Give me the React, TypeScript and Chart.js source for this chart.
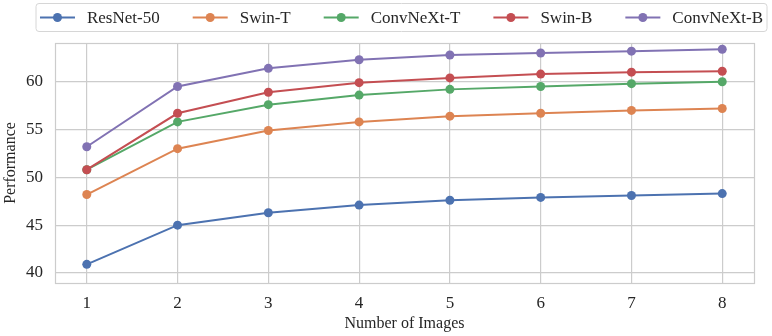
import React, { useEffect, useRef } from "react";
import { Chart, registerables } from "chart.js";

Chart.register(...registerables);

const imageCounts = [1, 2, 3, 4, 5, 6, 7, 8];
const seriesNames = ["ResNet-50", "Swin-T", "ConvNeXt-T", "Swin-B", "ConvNeXt-B"];
const resnet50 = [40.9, 45.0, 46.3, 47.1, 47.6, 47.9, 48.1, 48.3];
const swinT = [48.2, 53.0, 54.9, 55.8, 56.4, 56.7, 57.0, 57.2];
const convnextT = [50.8, 55.8, 57.6, 58.6, 59.2, 59.5, 59.8, 60.0];
const swinB = [50.8, 56.7, 58.9, 59.9, 60.4, 60.8, 61.0, 61.1];
const convnextB = [53.2, 59.5, 61.4, 62.3, 62.8, 63.0, 63.2, 63.4];
const seriesColors = ["#4C72B0", "#DD8452", "#55A868", "#C44E52", "#8172B3"];
const xTicks = [1, 2, 3, 4, 5, 6, 7, 8];
const yTicks = [40, 45, 50, 55, 60];

const FONT = "'Liberation Serif', 'Times New Roman', serif";
const TEXT = "#262626";
const GRID = "#cccccc";

const legendPlugin = {
  id: "boxLegend",
  afterDraw(chart: any) {
    const ctx = chart.ctx;
    ctx.save();
    ctx.font = `17px ${FONT}`;
    const handle = 35;
    const gapText = 12;
    const colSpace = 33;
    const items = chart.data.datasets.map((d: any) => ({
      label: d.label,
      color: d.borderColor,
      w: ctx.measureText(d.label).width,
    }));
    let total = 0;
    items.forEach((it: any, i: number) => {
      total += handle + gapText + it.w + (i < items.length - 1 ? colSpace : 0);
    });
    const boxL = 36, boxR = 767, boxT = 3.5, boxB = 31.5;
    const cx = (boxL + boxR) / 2;
    ctx.beginPath();
    const r = 3;
    ctx.moveTo(boxL + r, boxT);
    ctx.lineTo(boxR - r, boxT);
    ctx.quadraticCurveTo(boxR, boxT, boxR, boxT + r);
    ctx.lineTo(boxR, boxB - r);
    ctx.quadraticCurveTo(boxR, boxB, boxR - r, boxB);
    ctx.lineTo(boxL + r, boxB);
    ctx.quadraticCurveTo(boxL, boxB, boxL, boxB - r);
    ctx.lineTo(boxL, boxT + r);
    ctx.quadraticCurveTo(boxL, boxT, boxL + r, boxT);
    ctx.closePath();
    ctx.fillStyle = "rgba(255,255,255,0.8)";
    ctx.fill();
    ctx.strokeStyle = "#d6d6d6";
    ctx.lineWidth = 1;
    ctx.stroke();
    let x = cx - total / 2;
    const y = 17.5;
    items.forEach((it: any) => {
      ctx.strokeStyle = it.color;
      ctx.lineWidth = 2;
      ctx.beginPath();
      ctx.moveTo(x, y);
      ctx.lineTo(x + handle, y);
      ctx.stroke();
      ctx.fillStyle = it.color;
      ctx.beginPath();
      ctx.arc(x + handle / 2, y, 4.5, 0, Math.PI * 2);
      ctx.fill();
      ctx.fillStyle = TEXT;
      ctx.textBaseline = "middle";
      ctx.textAlign = "left";
      ctx.fillText(it.label, x + handle + gapText, y + 1);
      x += handle + gapText + it.w + colSpace;
    });
    ctx.restore();
  },
};

const framePlugin = {
  id: "frame",
  afterDatasetsDraw(chart: any) {
    const { ctx, chartArea } = chart;
    ctx.save();
    ctx.strokeStyle = GRID;
    ctx.lineWidth = 1.2;
    ctx.strokeRect(
      Math.round(chartArea.left) + 0.5,
      Math.round(chartArea.top) + 0.5,
      Math.round(chartArea.right - chartArea.left),
      Math.round(chartArea.bottom - chartArea.top)
    );
    ctx.restore();
  },
};

export default function App() {
  const ref = useRef<HTMLCanvasElement>(null);
  useEffect(() => {
    document.body.style.margin = "0";
    const allSeries = [resnet50, swinT, convnextT, swinB, convnextB];
    const chart = new Chart(ref.current as HTMLCanvasElement, {
      type: "line",
      data: {
        datasets: allSeries.map((vals, i) => ({
          label: seriesNames[i],
          data: vals.map((v, j) => ({ x: imageCounts[j], y: v })),
          borderColor: seriesColors[i],
          backgroundColor: seriesColors[i],
          pointBackgroundColor: seriesColors[i],
          pointBorderWidth: 0,
          pointRadius: 4.5,
          borderWidth: 2,
          tension: 0,
          fill: false,
          order: -i,
        })),
      },
      options: {
        responsive: false,
        animation: false,
        layout: { padding: { top: 43, right: 18, left: 0, bottom: 0 } },
        plugins: { legend: { display: false }, tooltip: { enabled: false } },
        scales: {
          x: {
            type: "linear",
            min: 0.65,
            max: 8.35,
            afterBuildTicks: (s: any) => {
              s.ticks = xTicks.map((v) => ({ value: v }));
            },
            afterFit: (s: any) => {
              s.height = 53;
            },
            grid: { color: GRID, lineWidth: 1.2, drawTicks: false },
            border: { display: false },
            ticks: {
              padding: 10,
              color: TEXT,
              font: { family: FONT, size: 17 },
              callback: (v: any) => String(v),
            },
            title: {
              display: true,
              text: "Number of Images",
              color: TEXT,
              font: { family: FONT, size: 16 },
              padding: { top: 0, bottom: 3 },
            },
          },
          y: {
            type: "linear",
            min: 38.95,
            max: 64.05,
            afterBuildTicks: (s: any) => {
              s.ticks = yTicks.map((v) => ({ value: v }));
            },
            afterFit: (s: any) => {
              s.width = 55;
            },
            grid: { color: GRID, lineWidth: 1.2, drawTicks: false },
            border: { display: false },
            ticks: {
              padding: 12,
              color: TEXT,
              font: { family: FONT, size: 17 },
              callback: (v: any) => String(v),
            },
            title: {
              display: true,
              text: "Performance",
              color: TEXT,
              font: { family: FONT, size: 16 },
              padding: { top: 1, bottom: 0 },
            },
          },
        },
      },
      plugins: [framePlugin, legendPlugin],
    } as any);
    return () => chart.destroy();
  }, []);
  return (
    <div style={{ width: 772, height: 336 }}>
      <canvas ref={ref} width={772} height={336} />
    </div>
  );
}
